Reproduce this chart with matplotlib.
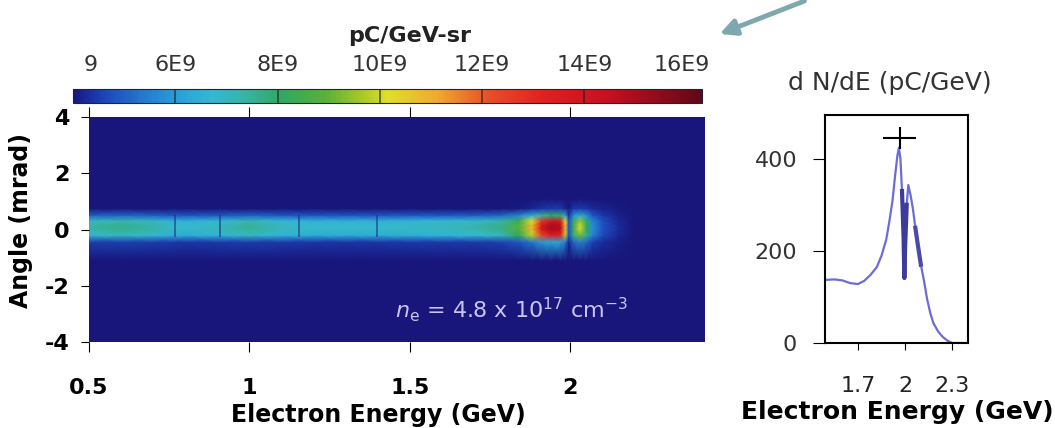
import numpy as np
import matplotlib.pyplot as plt
from matplotlib.colors import LinearSegmentedColormap
from matplotlib.patches import FancyArrowPatch

plt.rcParams['font.family'] = ['DejaVu Sans']
plt.rcParams['axes.unicode_minus'] = False

# --- heatmap data (pC/GeV-sr, in units of 1E9) ---
energy_nodes = [0.50, 0.60, 0.70, 0.76, 0.80, 0.90, 1.00, 1.10, 1.20, 1.30, 1.40, 1.50,
                1.60, 1.70, 1.78, 1.84, 1.88, 1.91, 1.94, 1.97, 1.985, 1.995, 2.01, 2.03,
                2.05, 2.07, 2.10, 2.15, 2.20, 2.42]
core_level = [3.3, 3.6, 3.3, 2.9, 2.8, 3.0, 3.5, 3.0, 2.8, 2.8, 2.8, 2.9,
              3.0, 3.2, 3.6, 4.5, 6.0, 8.5, 9.5, 9.2, 6.0, 0.6, 3.0, 4.4,
              2.8, 0.8, 0.3, 0.0, 0.0, 0.0]
halo_level = [0.0, 0.0, 0.0, 0.0, 0.0, 0.0, 0.0, 0.0, 0.0, 0.0, 0.0, 0.0,
              0.0, 0.0, 0.0, 0.3, 0.8, 1.2, 1.5, 1.5, 0.8, 0.3, 1.3, 1.6,
              1.4, 0.9, 0.5, 0.25, 0.0, 0.0]
angle_nodes = [-4.0, -1.1, -0.45, -0.2, 0.0, 0.15, 0.3, 0.5, 0.75, 1.1, 4.0]
core_profile = [0.0, 0.0, 0.15, 0.85, 1.0, 1.0, 0.9, 0.3, 0.0, 0.0, 0.0]
halo_profile = [0.0, 0.0, 0.5, 0.9, 1.0, 1.0, 0.95, 0.7, 0.3, 0.0, 0.0]
background = 4.0
seam_energies = [0.767, 0.907, 1.155, 1.397]

# --- spectrum data ---
spec_e = [1.49, 1.55, 1.60, 1.65, 1.70, 1.74, 1.78, 1.82, 1.85, 1.88, 1.90, 1.92,
          1.935, 1.95, 1.96, 1.97, 1.98, 1.99, 1.995, 2.00, 2.01, 2.02, 2.035, 2.05,
          2.065, 2.08, 2.10, 2.12, 2.14, 2.16, 2.18, 2.21, 2.24, 2.27, 2.30, 2.40]
spec_n = [137, 138, 136, 130, 128, 135, 148, 165, 190, 225, 265, 310,
          360, 405, 424, 400, 330, 230, 141, 210, 300, 343, 320, 290,
          250, 215, 170, 135, 95, 65, 43, 25, 13, 5, 0, 0]
peak_e, peak_n, peak_de, peak_dn = 1.965, 446, 0.105, 24

cb_ticks = [4.35, 6, 8, 10, 12, 14, 15.9]
cb_labels = ['9', '6E9', '8E9', '10E9', '12E9', '14E9', '16E9']
cb_seams = [6, 8, 10, 12, 14]

cmap = LinearSegmentedColormap.from_list('beam', [
    (0.00, '#18167a'), (0.02, '#1a2a9a'), (0.06, '#1f50c0'), (0.12, '#2680d0'),
    (0.17, '#2aa2d8'), (0.22, '#34b8d4'), (0.27, '#38b4a8'), (0.33, '#30a860'),
    (0.40, '#58b038'), (0.46, '#a8c828'), (0.50, '#e0e028'), (0.58, '#f0a830'),
    (0.66, '#e85028'), (0.75, '#e02020'), (0.85, '#c81020'), (1.00, '#600818')])

Z = background + np.outer(core_profile, core_level) + np.outer(halo_profile, halo_level)

W, H = 1055, 428
fig = plt.figure(figsize=(W / 100, H / 100), dpi=100)
ax = fig.add_axes([89 / W, 1 - 342 / H, 616 / W, 225 / H])
cax = fig.add_axes([73 / W, 1 - 103 / H, 629 / W, 14 / H])
ax2 = fig.add_axes([825 / W, 1 - 343 / H, 143 / W, 228 / H])

mesh = ax.pcolormesh(energy_nodes, angle_nodes, Z, shading='gouraud', cmap=cmap,
                     vmin=4.0, vmax=16.3)
ax.vlines(seam_energies, -0.25, 0.5, color='#1a2a80', lw=1.3, alpha=0.6)
ax.set_xlim(0.5, 2.42)
ax.set_ylim(-4, 4)
ax.set_xticks([0.5, 1, 1.5, 2])
ax.set_xticklabels(['0.5', '1', '1.5', '2'])
ax.set_yticks([-4, -2, 0, 2, 4])
ax.tick_params(axis='x', direction='out', top=True, length=7, pad=19, labelsize=16)
ax.tick_params(axis='y', direction='out', length=6, pad=8, labelsize=16)
for lab in ax.get_xticklabels() + ax.get_yticklabels():
    lab.set_fontweight('bold')
ax.set_xlabel('Electron Energy (GeV)', fontsize=17, fontweight='bold')
ax.xaxis.set_label_coords((378 - 89) / 616, (342 - 415) / 225)
ax.xaxis.label.set_va('center')
ax.set_ylabel('Angle (mrad)', fontsize=17, fontweight='bold')
ax.yaxis.set_label_coords((21 - 89) / 616, (342 - 220) / 225)
ax.yaxis.label.set_va('center')
for s in ax.spines.values():
    s.set_visible(False)
ax.text(1.453, -2.85, r'$n_\mathregular{e}$ = 4.8 x 10$^{17}$ cm$^{-3}$',
        color='#cbc4f2', fontsize=16, va='center')

cb = fig.colorbar(mesh, cax=cax, orientation='horizontal')
cb.outline.set_linewidth(0.8)
cb.outline.set_edgecolor('#202040')
cax.xaxis.set_ticks_position('top')
cax.set_xticks(cb_ticks)
cax.set_xticklabels(cb_labels)
cax.tick_params(axis='x', length=0, pad=10, labelsize=16, labelcolor='#333333')
for v in cb_seams:
    cax.axvline(v, color='#202020', lw=1.2, alpha=0.7)
fig.text(410 / W, 1 - 36 / H, 'pC/GeV-sr', ha='center', va='center',
         fontsize=16, fontweight='bold', color='#222222')

ax2.plot(spec_e, spec_n, color='#6c6cd6', lw=1.6)
ax2.plot(spec_e[16:21], spec_n[16:21], color='#3c3c9c', lw=3)
ax2.plot(spec_e[24:27], spec_n[24:27], color='#4a4aa8', lw=3)
ax2.errorbar([peak_e], [peak_n], xerr=[peak_de], yerr=[peak_dn], color='black',
             lw=1.5, capsize=0)
ax2.set_xlim(1.49, 2.40)
ax2.set_ylim(0, 495)
ax2.set_xticks([1.7, 2, 2.3])
ax2.set_xticklabels(['1.7', '2', '2.3'])
ax2.set_yticks([0, 200, 400])
ax2.tick_params(axis='x', direction='out', length=5, pad=19, labelsize=16,
                labelcolor='#222222')
ax2.tick_params(axis='y', direction='out', length=9, pad=11, labelsize=16,
                labelcolor='#333333')
for s in ax2.spines.values():
    s.set_linewidth(1.5)
ax2.set_xlabel('Electron Energy (GeV)', fontsize=18, fontweight='bold')
ax2.xaxis.set_label_coords((897 - 825) / 143, (343 - 412) / 228)
ax2.xaxis.label.set_va('center')
fig.text(890 / W, 1 - 83 / H, 'd N/dE (pC/GeV)', ha='center', va='center',
         fontsize=18, color='#333333')

fig.patches.append(FancyArrowPatch(
    (807 / W, 1.0), (717 / W, 1 - 35 / H), transform=fig.transFigure,
    arrowstyle='-|>', mutation_scale=24, lw=3.5, color='#7fa8ae'))

fig.savefig('out.png', dpi=100)
